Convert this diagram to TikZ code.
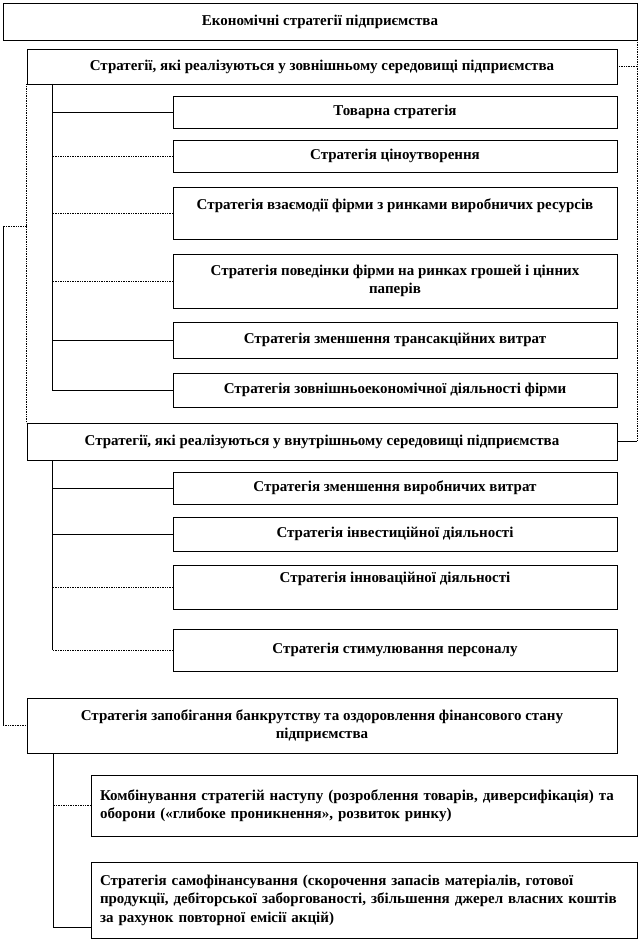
\documentclass[tikz,border=0pt]{standalone}
\usepackage{fontspec}
\setmainfont{Liberation Serif}

\tikzset{
  box/.style={draw, line width=0.7pt, rectangle, inner sep=2pt, align=center,
    font=\bfseries\fontsize{15}{18.5}\selectfont},
  wide/.style={box, minimum width=590pt},
  kid/.style={box, minimum width=444pt},
  note/.style={box, text width=528pt, inner xsep=9pt, align=left},
  link/.style={line width=0.7pt},
  dotlink/.style={line width=0.7pt, densely dotted},
}

\begin{document}
\begin{tikzpicture}[x=1pt,y=-1pt]
\useasboundingbox (0,0) rectangle (641,941);
% top
\node[box, minimum width=634pt, minimum height=37pt] (top) at (320,21.5) {Економічні стратегії підприємства};
% external environment
\node[wide, minimum height=35pt] (ext) at (322,66.5) {Стратегії, які реалізуються у зовнішньому середовищі підприємства};
\node[kid, minimum height=32pt] (e1) at (395,112) {Товарна стратегія};
\node[kid, minimum height=32pt] (e2) at (395,156) {Стратегія ціноутворення};
\node[kid, minimum height=52pt] (e3) at (395,213) {Стратегія взаємодії фірми з ринками виробничих ресурсів\\ \mbox{}};
\node[kid, minimum height=54pt] (e4) at (395,281) {Стратегія поведінки фірми на ринках грошей і цінних\\ паперів};
\node[kid, minimum height=36pt] (e5) at (395,340) {Стратегія зменшення трансакційних витрат};
\node[kid, minimum height=34pt] (e6) at (395,390) {Стратегія зовнішньоекономічної діяльності фірми};
% internal environment
\node[wide, minimum height=37pt] (int) at (322,441.5) {Стратегії, які реалізуються у внутрішньому середовищі підприємства};
\node[kid, minimum height=32pt] (i1) at (395,488) {Стратегія зменшення виробничих витрат};
\node[kid, minimum height=34pt] (i2) at (395,534) {Стратегія інвестиційної діяльності};
\node[kid, minimum height=44pt] (i3) at (395,587) {Стратегія інноваційної діяльності\\ \mbox{}};
\node[kid, minimum height=42pt] (i4) at (395,650) {Стратегія стимулювання персоналу};
% bankruptcy
\node[wide, minimum height=55pt] (bank) at (322,725.5) {Стратегія запобігання банкрутству та оздоровлення фінансового стану\\ підприємства};
\node[note, minimum height=61pt] (c1) at (364,805.5) {Комбінування стратегій наступу (розроблення товарів, диверсифікація) та\\ оборони («глибоке проникнення», розвиток ринку)};
\node[note, minimum height=76pt] (c2) at (364,900) {Стратегія самофінансування (скорочення запасів матеріалів, готової\\ продукції, дебіторської заборгованості, збільшення джерел власних коштів\\ за рахунок повторної емісії акцій)};

% right side
\coordinate (rv) at (top.south east |- int.east);
\draw[dotlink] (top.south east) -- (rv);
\draw[dotlink] (ext.east) -- (ext.east -| rv);
\draw[link] (int.east) -- (rv);
% left side
\draw[dotlink] (ext.south west) -- (int.north west);
\coordinate (lk) at (27,226);
\coordinate (lt) at (3,226);
\coordinate (lb) at (lt |- bank.west);
\draw[dotlink] (lk) -- (lt);
\draw[link] (lt) -- (lb);
\draw[dotlink] (lb) -- (bank.west);
% tree of ext
\coordinate (te) at (52,84);
\draw[link] (te) |- (e6.west);
\draw[link] (e1.west) -- (e1.west -| te);
\draw[dotlink] (e2.west) -- (e2.west -| te);
\draw[dotlink] (e3.west) -- (e3.west -| te);
\draw[dotlink] (e4.west) -- (e4.west -| te);
\draw[link] (e5.west) -- (e5.west -| te);
% tree of int
\coordinate (ti) at (52,460);
\draw[link] (ti) -- (ti |- i4.west);
\draw[link] (i1.west) -- (i1.west -| ti);
\draw[link] (i2.west) -- (i2.west -| ti);
\draw[dotlink] (i3.west) -- (i3.west -| ti);
\draw[dotlink] (i4.west) -- (i4.west -| ti);
% tree of bank
\coordinate (tb) at (53,753);
\coordinate (c2in) at (91,927);
\draw[link] (tb) |- (c2in);
\draw[dotlink] (c1.west) -- (c1.west -| tb);
\end{tikzpicture}
\end{document}
